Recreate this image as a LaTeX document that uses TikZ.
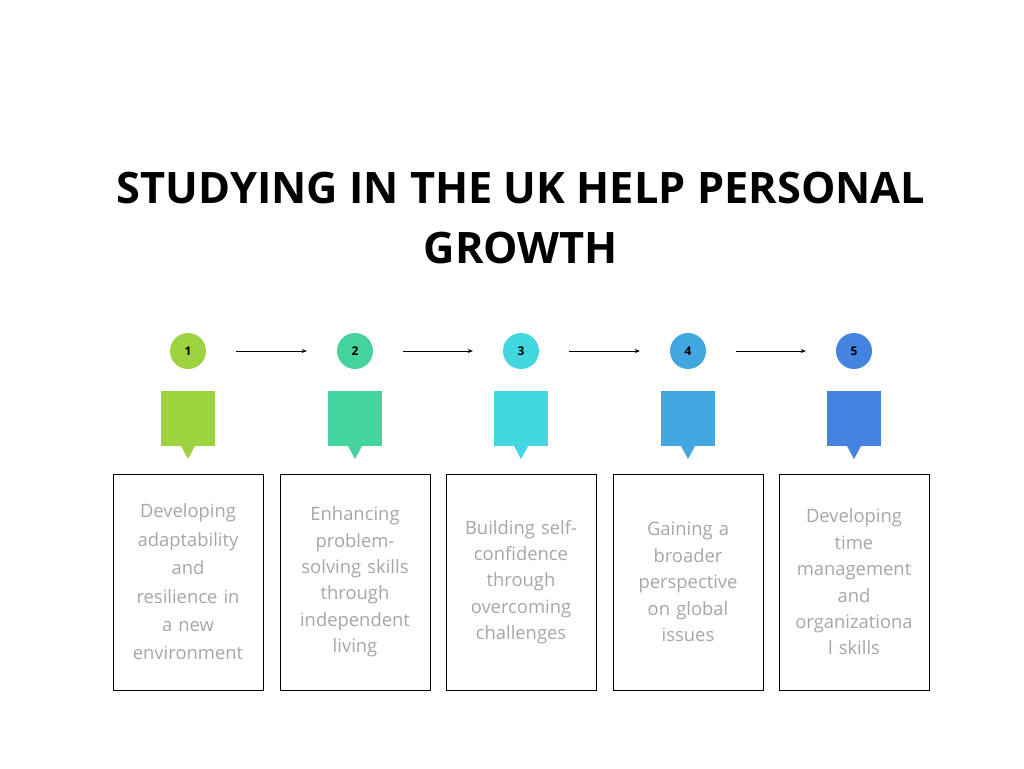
\documentclass[tikz,border=0pt]{standalone}
\usepackage{fontspec}
\setmainfont{Open Sans}
\usetikzlibrary{arrows.meta}
\definecolor{c1}{HTML}{9ED340}
\definecolor{c2}{HTML}{46D49E}
\definecolor{c3}{HTML}{42D6E0}
\definecolor{c4}{HTML}{42A6E0}
\definecolor{c5}{HTML}{4484E0}
\definecolor{tg}{HTML}{A6A6A6}
\begin{document}
\begin{tikzpicture}[x=0.75pt,y=-0.75pt,
  num/.style={circle,minimum size=27pt,inner sep=0pt,font=\fontsize{9}{10}\selectfont\bfseries},
  sq/.style={minimum size=41pt,inner sep=0pt},
  txt/.style={draw=black,line width=0.6pt,minimum width=112.5pt,minimum height=162pt,text width=92pt,align=center,text=tg},
  arr/.style={-{Stealth[length=4pt,width=3pt]},line width=0.6pt}]
\useasboundingbox (0,0) rectangle (1024,768);
\node[font=\fontsize{32.5}{45}\selectfont\bfseries,align=center] (title) at (521,218) {STUDYING IN THE UK HELP PERSONAL\\GROWTH};
\foreach \i/\x/\ls/\t in {1/188/21.3/{Developing\\adaptability\\and\\resilience in\\a new\\environment},
  2/355/19.8/{Enhancing\\problem-\\solving skills\\through\\independent\\living},
  3/521/19.8/{Building self-\\confidence\\through\\overcoming\\challenges},
  4/688/19.8/{Gaining a\\broader\\perspective\\on global\\issues},
  5/854/19.8/{Developing\\time\\management\\and\\organizationa\\l skills}}{
  \node[num,fill=c\i] (n\i) at (\x,351) {\i};
  \node[sq,fill=c\i] (s\i) at (\x,418.5) {};
  \fill[c\i] (\x-7,446) -- (\x+7,446) -- (\x,459) -- cycle;
  \node[txt,font=\fontsize{13.8}{\ls}\selectfont] (t\i) at (\x,582) {\t};
}
\foreach \a/\b in {1/2,2/3,3/4,4/5}{
  \draw[arr] ([xshift=36pt]n\a.center) -- ([xshift=-36pt]n\b.center);
}
\end{tikzpicture}
\end{document}
